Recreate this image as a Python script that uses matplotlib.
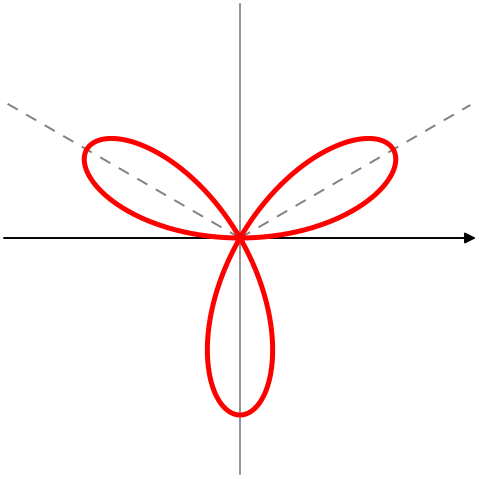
import numpy as np
import matplotlib
matplotlib.use('Agg')
import matplotlib.pyplot as plt

# rose curve r = a*sin(k*theta)
petals = 3
amplitude = 1.0
guide_angles_deg = [30, 150]      # dashed guide lines through the petals
guide_lengths_px = [266, 273]

scale = 177.0  # px per unit
fig = plt.figure(figsize=(4.79, 4.79), dpi=100)
ax = fig.add_axes([0, 0, 1, 1])
ax.set_xlim(-240 / scale, 239 / scale)
ax.set_ylim(-241 / scale, 238 / scale)
ax.set_aspect('equal')
ax.axis('off')

# vertical axis (gray)
ax.plot([0, 0], [-236 / scale, 234 / scale], color='#808080', lw=1.2, zorder=1)
# horizontal axis with arrow
ax.annotate('', xy=(236 / scale, 0), xytext=(-236 / scale, 0),
            arrowprops=dict(arrowstyle='-|>', color='black', lw=1.4,
                            mutation_scale=16, shrinkA=0, shrinkB=0), zorder=2)

# dashed guides
for a, L in zip(guide_angles_deg, guide_lengths_px):
    t = np.radians(a)
    L = L / scale
    ax.plot([0, L * np.cos(t)], [0, L * np.sin(t)], color='#808080', lw=1.4,
            dashes=(6, 5), zorder=1)

theta = np.linspace(0, np.pi, 1000)
r = amplitude * np.sin(petals * theta)
ax.plot(r * np.cos(theta), r * np.sin(theta), color='red', lw=3.6,
        solid_capstyle='round', zorder=3)

fig.savefig('out.png', dpi=100)
